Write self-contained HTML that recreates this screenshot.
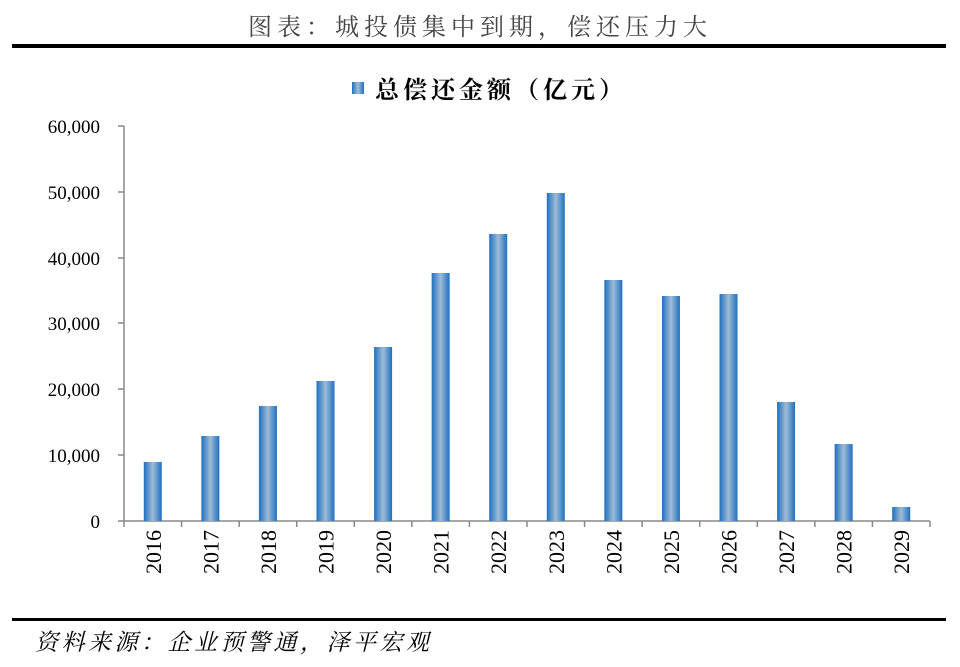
<!DOCTYPE html>
<html><head><meta charset="utf-8"><style>
body{margin:0;background:#fff;width:960px;height:667px;overflow:hidden;position:relative;font-family:"Liberation Serif","Noto Serif CJK SC",serif;}
</style></head><body>
<svg width="960" height="667" xmlns="http://www.w3.org/2000/svg" style="position:absolute;left:0;top:0">
<defs>
<linearGradient id="g" x1="0" x2="1" y1="0" y2="0">
<stop offset="0" stop-color="#1f6fc0"/><stop offset="0.5" stop-color="#9fbcd6"/><stop offset="1" stop-color="#1f6fc0"/>
</linearGradient>
</defs>
<text x="480" y="35" text-anchor="middle" font-size="24" fill="#444" font-family="'Noto Serif CJK SC',serif" letter-spacing="5">图表：城投债集中到期，偿还压力大</text>
<rect x="12" y="44" width="934" height="4" fill="#000"/>
<rect x="352" y="82" width="12" height="12" fill="url(#g)"/>
<text x="375" y="98" font-size="24" font-weight="bold" fill="#000" font-family="'Noto Serif CJK SC',serif" letter-spacing="4">总偿还金额（亿元）</text>
<g stroke="#888" stroke-width="1.5" fill="none">
<line x1="124" y1="126" x2="124" y2="521"/>
<line x1="124" y1="521" x2="930" y2="521"/>
</g>
<g stroke="#888" stroke-width="1.5">
<line x1="118" y1="126" x2="124" y2="126"/><line x1="118" y1="192" x2="124" y2="192"/><line x1="118" y1="258" x2="124" y2="258"/><line x1="118" y1="323" x2="124" y2="323"/><line x1="118" y1="389" x2="124" y2="389"/><line x1="118" y1="455" x2="124" y2="455"/><line x1="118" y1="521" x2="124" y2="521"/>
</g>
<g font-size="19" fill="#000" text-anchor="end">
<text x="100" y="133">60,000</text><text x="100" y="199">50,000</text><text x="100" y="265">40,000</text><text x="100" y="330">30,000</text><text x="100" y="396">20,000</text><text x="100" y="462">10,000</text><text x="100" y="528">0</text>
</g>
<g id="bars"></g>
</svg>
<script>
var tops=[462,436,406,381,347,273,234,193,280,296,294,402,444,507];
var s='';var w=(930-124)/14;
for(var i=0;i<14;i++){var x0=124+i*w;var cx=x0+w/2;
s+='<rect x="'+(cx-9)+'" y="'+tops[i]+'" width="18" height="'+(521-tops[i])+'" fill="url(#g)"/>';
s+='<line x1="'+x0+'" y1="521" x2="'+x0+'" y2="527" stroke="#888" stroke-width="1.5"/>';
s+='<text transform="translate('+(cx+8)+',530) rotate(-90)" text-anchor="end" font-size="22">'+(2016+i)+'</text>';}
s+='<line x1="930" y1="521" x2="930" y2="527" stroke="#888" stroke-width="1.5"/>';
s+='<rect x="12" y="618" width="934" height="3" fill="#000"/>';
s+='<text x="35" y="650" font-size="23" font-style="italic" letter-spacing="3.5" font-family="\'Noto Serif CJK SC\',serif">资料来源：企业预警通，泽平宏观</text>';
document.getElementById('bars').innerHTML=s;
</script>
</body></html>
